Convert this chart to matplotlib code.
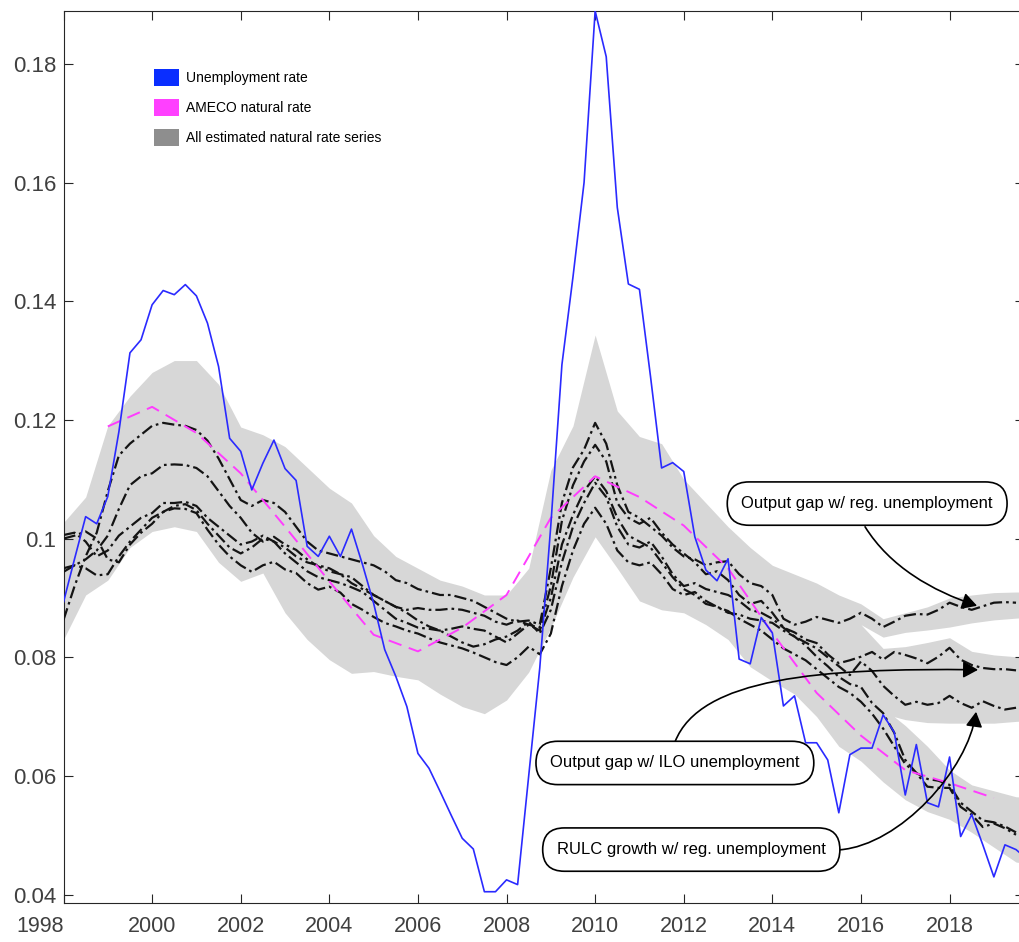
import numpy as np
import matplotlib.pyplot as plt
from matplotlib.patches import Patch, FancyArrowPatch
from matplotlib.path import Path
from matplotlib.ticker import FuncFormatter

plt.rcParams['font.family'] = ['Liberation Sans', 'DejaVu Sans']

# unemployment rate, quarterly from 1998Q1
unemp = [0.0893, 0.0966, 0.1037, 0.1025, 0.1071, 0.1180, 0.1313, 0.1335,
         0.1394, 0.1418, 0.1411, 0.1428, 0.1409, 0.1363, 0.1290, 0.1169,
         0.1147, 0.1082, 0.1127, 0.1166, 0.1118, 0.1098, 0.0987, 0.0970,
         0.1004, 0.0970, 0.1016, 0.0956, 0.0891, 0.0813, 0.0768, 0.0717,
         0.0638, 0.0613, 0.0574, 0.0534, 0.0495, 0.0477, 0.0405, 0.0405,
         0.0425, 0.0417, 0.0600, 0.0782, 0.1023, 0.1293, 0.1441, 0.1600,
         0.1889, 0.1812, 0.1558, 0.1429, 0.1420, 0.1273, 0.1119, 0.1128,
         0.1113, 0.1003, 0.0947, 0.0929, 0.0966, 0.0797, 0.0789, 0.0867,
         0.0841, 0.0718, 0.0735, 0.0656, 0.0656, 0.0627, 0.0538, 0.0636,
         0.0647, 0.0647, 0.0703, 0.0674, 0.0568, 0.0653, 0.0555, 0.0548,
         0.0632, 0.0498, 0.0535, 0.0484, 0.0430, 0.0484, 0.0476, 0.0460]

# AMECO natural rate, annual 1999-2019
ameco_years = list(range(1999, 2020))
ameco = [0.1189, 0.1222, 0.1178, 0.1110, 0.1020, 0.0928, 0.0838, 0.0810,
         0.0850, 0.0905, 0.1035, 0.1105, 0.1070, 0.1022, 0.0950, 0.0841,
         0.0740, 0.0668, 0.0610, 0.0588, 0.0563]

# envelope of all estimated natural rate series, half-yearly 1998.0-2020.0
band_hi = [0.1027, 0.1070, 0.1190, 0.1240, 0.1280, 0.1300, 0.1300, 0.1260,
           0.1188, 0.1175, 0.1155, 0.1120, 0.1085, 0.1060, 0.1005, 0.0970,
           0.0950, 0.0930, 0.0920, 0.0905, 0.0905, 0.0950, 0.1115, 0.1190,
           0.1343, 0.1215, 0.1172, 0.1160, 0.1100, 0.1060, 0.1020, 0.0985,
           0.0955, 0.0940, 0.0925, 0.0905, 0.0890, 0.0865, 0.0875, 0.0885,
           0.0900, 0.0905, 0.0909, 0.0910, 0.0910]
band_lo = [0.0830, 0.0905, 0.0930, 0.0985, 0.1012, 0.1020, 0.1012, 0.0960,
           0.0928, 0.0942, 0.0875, 0.0830, 0.0796, 0.0773, 0.0776, 0.0768,
           0.0762, 0.0738, 0.0717, 0.0705, 0.0728, 0.0775, 0.0850, 0.0935,
           0.1003, 0.0950, 0.0895, 0.0880, 0.0875, 0.0855, 0.0830, 0.0784,
           0.0760, 0.0738, 0.0700, 0.0650, 0.0625, 0.0590, 0.0560, 0.0540,
           0.0527, 0.0505, 0.0480, 0.0455, 0.0450]

# empty stretches between groups of estimates after 2016
gap1_t = [2016.0, 2016.5, 2017.0, 2017.5, 2018.0, 2018.5, 2019.0, 2019.5, 2020.0]
gap1_hi = [0.0855, 0.0834, 0.0842, 0.0846, 0.0851, 0.0858, 0.0863, 0.0866, 0.0868]
gap1_lo = [0.0855, 0.0815, 0.0818, 0.0825, 0.0833, 0.0810, 0.0804, 0.0801, 0.0801]
gap2_t = [2016.75, 2017.0, 2017.5, 2018.0, 2018.5, 2019.0, 2019.5, 2020.0]
gap2_hi = [0.0700, 0.0695, 0.0690, 0.0689, 0.0689, 0.0689, 0.0692, 0.0694]
gap2_lo = [0.0700, 0.0685, 0.0650, 0.0610, 0.0585, 0.0575, 0.0565, 0.0563]

# highlighted estimates, quarterly from 1998Q1
est1 = [0.0863, 0.0920, 0.0970, 0.1010, 0.1080, 0.1140, 0.1160, 0.1175,
        0.1190, 0.1195, 0.1192, 0.1190, 0.1183, 0.1165, 0.1135, 0.1100,
        0.1065, 0.1055, 0.1065, 0.1060, 0.1045, 0.1020, 0.0995, 0.0980,
        0.0975, 0.0970, 0.0965, 0.0960, 0.0955, 0.0945, 0.0930, 0.0925,
        0.0915, 0.0910, 0.0905, 0.0905, 0.0900, 0.0895, 0.0885, 0.0875,
        0.0865, 0.0860, 0.0862, 0.0855, 0.0950, 0.1060, 0.1120, 0.1150,
        0.1195, 0.1160, 0.1090, 0.1045, 0.1035, 0.1020, 0.1005, 0.0985,
        0.0970, 0.0965, 0.0955, 0.0960, 0.0962, 0.0940, 0.0925, 0.0920,
        0.0905, 0.0865, 0.0855, 0.0860, 0.0868, 0.0863, 0.0858, 0.0865,
        0.0875, 0.0865, 0.0851, 0.0860, 0.0870, 0.0873, 0.0872, 0.0880,
        0.0892, 0.0885, 0.0880, 0.0886, 0.0892, 0.0893, 0.0892]
est2 = [0.0944, 0.0955, 0.0965, 0.0980, 0.1005, 0.1050, 0.1090, 0.1105,
        0.1110, 0.1124, 0.1125, 0.1124, 0.1119, 0.1105, 0.1080, 0.1055,
        0.1035, 0.1010, 0.0995, 0.1003, 0.0990, 0.0981, 0.0965, 0.0953,
        0.0945, 0.0940, 0.0935, 0.0920, 0.0905, 0.0895, 0.0885, 0.0880,
        0.0883, 0.0880, 0.0880, 0.0882, 0.0880, 0.0875, 0.0870, 0.0860,
        0.0855, 0.0862, 0.0855, 0.0850, 0.0920, 0.1030, 0.1090, 0.1130,
        0.1158, 0.1130, 0.1060, 0.1035, 0.1025, 0.1035, 0.1010, 0.0990,
        0.0975, 0.0960, 0.0940, 0.0945, 0.0930, 0.0905, 0.0890, 0.0895,
        0.0875, 0.0850, 0.0842, 0.0830, 0.0824, 0.0805, 0.0790, 0.0795,
        0.0801, 0.0809, 0.0796, 0.0809, 0.0804, 0.0798, 0.0790, 0.0801,
        0.0816, 0.0796, 0.0787, 0.0782, 0.0780, 0.0780, 0.0778]
est3 = [0.1006, 0.1010, 0.0995, 0.0970, 0.0980, 0.1005, 0.1020, 0.1035,
        0.1043, 0.1060, 0.1060, 0.1062, 0.1055, 0.1035, 0.1020, 0.1005,
        0.0990, 0.0995, 0.1005, 0.0995, 0.0985, 0.0970, 0.0960, 0.0955,
        0.0950, 0.0940, 0.0925, 0.0915, 0.0905, 0.0895, 0.0885, 0.0875,
        0.0862, 0.0852, 0.0845, 0.0835, 0.0825, 0.0818, 0.0822, 0.0830,
        0.0835, 0.0845, 0.0860, 0.0840, 0.0880, 0.0960, 0.1020, 0.1060,
        0.1094, 0.1070, 0.1020, 0.0990, 0.0985, 0.0995, 0.0970, 0.0940,
        0.0920, 0.0925, 0.0915, 0.0910, 0.0905, 0.0895, 0.0880, 0.0875,
        0.0865, 0.0850, 0.0835, 0.0825, 0.0815, 0.0800, 0.0785, 0.0770,
        0.0793, 0.0777, 0.0752, 0.0735, 0.0720, 0.0725, 0.0720, 0.0723,
        0.0735, 0.0723, 0.0715, 0.0726, 0.0718, 0.0712, 0.0715]
est4 = [0.0950, 0.0955, 0.0950, 0.0938, 0.0940, 0.0970, 0.0995, 0.1015,
        0.1035, 0.1045, 0.1051, 0.1050, 0.1043, 0.1015, 0.0990, 0.0970,
        0.0955, 0.0944, 0.0955, 0.0961, 0.0948, 0.0942, 0.0925, 0.0914,
        0.0919, 0.0909, 0.0890, 0.0880, 0.0868, 0.0858, 0.0852, 0.0845,
        0.0840, 0.0832, 0.0825, 0.0820, 0.0815, 0.0808, 0.0800, 0.0792,
        0.0787, 0.0800, 0.0818, 0.0805, 0.0840, 0.0920, 0.0980, 0.1025,
        0.1052, 0.1025, 0.0980, 0.0960, 0.0955, 0.0960, 0.0940, 0.0915,
        0.0905, 0.0910, 0.0895, 0.0885, 0.0875, 0.0872, 0.0865, 0.0862,
        0.0858, 0.0845, 0.0835, 0.0820, 0.0801, 0.0785, 0.0767, 0.0755,
        0.0750, 0.0723, 0.0706, 0.0673, 0.0627, 0.0605, 0.0582, 0.0580,
        0.0580, 0.0548, 0.0535, 0.0514, 0.0520, 0.0512, 0.0501]
est5 = [0.1000, 0.1005, 0.1012, 0.1000, 0.0965, 0.0960, 0.0990, 0.1010,
        0.1025, 0.1045, 0.1055, 0.1058, 0.1048, 0.1025, 0.1005, 0.0985,
        0.0975, 0.0985, 0.1000, 0.0995, 0.0975, 0.0960, 0.0945, 0.0935,
        0.0930, 0.0925, 0.0918, 0.0910, 0.0895, 0.0880, 0.0865, 0.0858,
        0.0850, 0.0848, 0.0845, 0.0848, 0.0852, 0.0848, 0.0845, 0.0835,
        0.0825, 0.0840, 0.0855, 0.0845, 0.0900, 0.0990, 0.1040, 0.1080,
        0.1105, 0.1080, 0.1035, 0.1005, 0.0995, 0.0985, 0.0960, 0.0935,
        0.0915, 0.0905, 0.0890, 0.0885, 0.0878, 0.0865, 0.0855, 0.0845,
        0.0830, 0.0815, 0.0805, 0.0795, 0.0780, 0.0765, 0.0750, 0.0740,
        0.0725, 0.0705, 0.0680, 0.0650, 0.0620, 0.0605, 0.0595, 0.0592,
        0.0585, 0.0555, 0.0540, 0.0525, 0.0522, 0.0515, 0.0505]

fig = plt.figure(figsize=(10.19, 9.42), dpi=100)
ax = fig.add_axes([63.5 / 1019, 39 / 942, 960.5 / 1019, 892 / 942])

band_t = 1998 + 0.5 * np.arange(len(band_hi))
ax.fill_between(band_t, band_lo, band_hi, color='#d7d7d7', lw=0, zorder=1)
ax.fill_between(gap1_t, gap1_lo, gap1_hi, color='white', lw=0, zorder=1.1)
ax.fill_between(gap2_t, gap2_lo, gap2_hi, color='white', lw=0, zorder=1.1)

estimates = [est1, est2, est3, est4, est5]
for est in estimates:
    t = 1998 + np.arange(len(est)) / 4
    ax.plot(t, est, color='#141414', lw=1.6, zorder=3,
            dashes=(5.5, 1.8, 1.2, 1.8))

ax.plot(ameco_years, ameco, color='#ff3cff', lw=1.4, zorder=4, dashes=(7, 4))
q = 1998 + np.arange(len(unemp)) / 4
ax.plot(q, unemp, color='#2a2aff', lw=1.2, zorder=5)

ax.set_xlim(1998, 2019.68)
ax.set_ylim(0.0386, 0.1889)
ax.set_xticks(range(1998, 2019, 2))
ax.set_yticks([0.04, 0.06, 0.08, 0.10, 0.12, 0.14, 0.16, 0.18])
ax.yaxis.set_major_formatter(FuncFormatter(lambda v, p: '%g' % round(v, 2)))
ax.tick_params(direction='in', length=6.3, width=0.8, top=True, right=True,
               colors='#262626', labelcolor='#404040')
ax.tick_params(axis='y', labelsize=16, pad=5)
ax.tick_params(axis='x', labelsize=15.5, pad=9)
for s in ax.spines.values():
    s.set_color('#262626')
    s.set_linewidth(0.8)
ax.get_xticklabels()[0].set_ha('right')

handles = [Patch(facecolor='#0a2eff', edgecolor='none'),
           Patch(facecolor='#ff40ff', edgecolor='none'),
           Patch(facecolor='#8e8e8e', edgecolor='none')]
labels = ['Unemployment rate', 'AMECO natural rate',
          'All estimated natural rate series']
ax.legend(handles, labels, loc='upper left', bbox_to_anchor=(0.094, 0.935),
          frameon=False, fontsize=10, handlelength=1.8, handleheight=1.5,
          labelspacing=0.95, handletextpad=0.5, borderpad=0, borderaxespad=0)

box = dict(boxstyle='round,pad=0.85,rounding_size=1.3', fc='white',
           ec='black', lw=1.2)
notes = [('Output gap w/ reg. unemployment', 2016.14, 0.1059),
         ('Output gap w/ ILO unemployment', 2011.80, 0.0622),
         ('RULC growth w/ reg. unemployment', 2012.17, 0.0476)]
for txt, x, y in notes:
    ax.text(x, y, txt, ha='center', va='center', fontsize=12, bbox=box,
            zorder=7)


def yr(px):
    return 1998 + (px - 63.5) / 44.3


def rate(py):
    return 0.18 - (py - 64) * 0.02 / 118.7


# curved arrows from the boxes to the series they name
curves = [[(865, 527), (890, 567), (932, 591), (977, 606)],
          [(675, 742), (700, 678), (820, 668), (978, 670)],
          [(840, 850), (900, 845), (968, 770), (976, 712)]]
for pts in curves:
    verts = [(yr(a), rate(b)) for a, b in pts]
    path = Path(verts, [Path.MOVETO, Path.CURVE4, Path.CURVE4, Path.CURVE4])
    arr = FancyArrowPatch(path=path, arrowstyle='-|>,head_length=0.45,head_width=0.25',
                          mutation_scale=20, color='black', lw=1.2, zorder=6)
    ax.add_patch(arr)

fig.savefig('out.png', dpi=100)
